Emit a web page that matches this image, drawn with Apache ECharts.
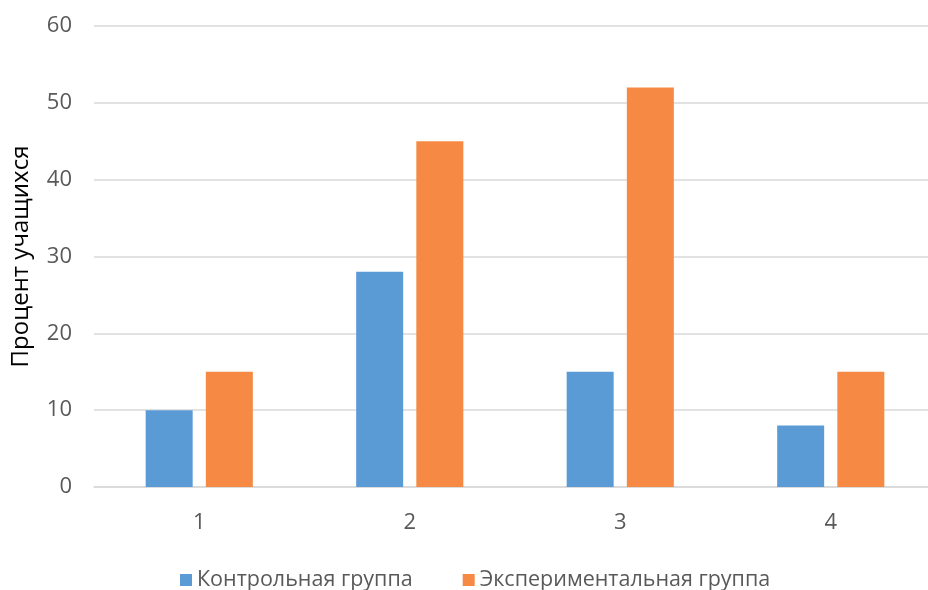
<!DOCTYPE html>
<html>
<head>
<meta charset="utf-8">
<script src="https://cdn.jsdelivr.net/npm/echarts@6/dist/echarts.min.js"></script>
<style>
    html, body { margin: 0; padding: 0; background: #fff; overflow: hidden; }
    #chart { width: 928px; height: 590px; }
</style>
</head>
<body>
<div id="chart"></div>
<script>
// data
var categories = ['1', '2', '3', '4']
var controlGroup = [10, 28, 15, 8]
var experimentGroup = [15, 45, 52, 15]
var seriesNames = ['Контрольная группа', 'Экспериментальная группа']

var chart = echarts.init(document.getElementById('chart'), null, {renderer: 'canvas'})

var font = '"Open Sans", "Noto Sans", sans-serif'

var option = {
    animation: false,
    textStyle: { fontFamily: font },
    grid: {
        left: 94,
        width: 842, // the plot runs past the right edge in the original
        top: 26,
        bottom: 103,
        outerBoundsMode: 'none'
    },
    legend: {
        top: 564,
        left: 175,
        itemWidth: 12,
        itemHeight: 12,
        itemGap: 50,
        icon: 'rect',
        textStyle: { color: '#595959', fontSize: 21.5, fontFamily: font },
        data: seriesNames
    },
    xAxis: {
        type: 'category',
        data: categories,
        axisTick: { show: false },
        axisLine: { lineStyle: { color: '#d9d9d9', width: 1.5 } },
        axisLabel: { color: '#595959', fontSize: 22, margin: 25, fontFamily: font }
    },
    yAxis: {
        type: 'value',
        min: 0,
        max: 60,
        interval: 10,
        name: 'Процент учащихся',
        nameLocation: 'middle',
        nameGap: 61,
        nameTextStyle: { color: '#000', fontSize: 24, fontFamily: font },
        axisLine: { show: false },
        axisTick: { show: false },
        axisLabel: { color: '#595959', fontSize: 22, margin: 22, fontFamily: font },
        splitLine: { lineStyle: { color: '#d9d9d9', width: 1.5 } }
    },
    series: [
        {
            name: seriesNames[0],
            type: 'bar',
            data: controlGroup,
            barWidth: 47,
            barGap: '28%',
            itemStyle: { color: '#5b9bd5' }
        },
        {
            name: seriesNames[1],
            type: 'bar',
            data: experimentGroup,
            barWidth: 47,
            itemStyle: { color: '#f68944' }
        }
    ]
}

chart.setOption(option)
</script>
</body>
</html>
